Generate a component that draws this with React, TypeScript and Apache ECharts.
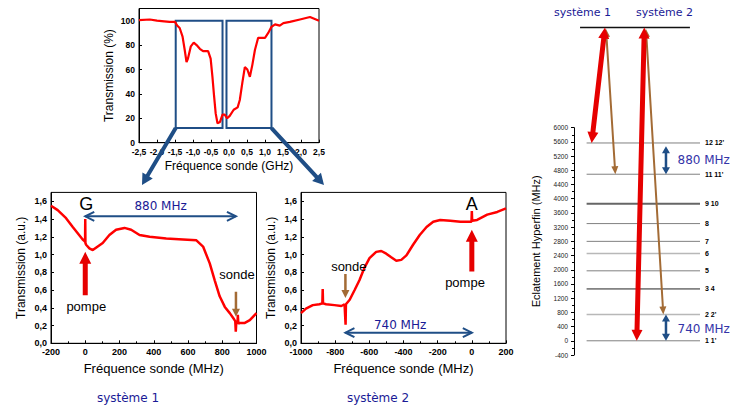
import React, { useEffect, useRef } from "react";
import * as echarts from "echarts";

// ---- Top survey spectrum: probe frequency (GHz) vs transmission (%)
const surveyFreq = [-2.5, -2.2, -2.0, -1.8, -1.65, -1.5, -1.44, -1.37, -1.29, -1.23, -1.18, -1.14, -1.06, -0.98, -0.9, -0.81, -0.72, -0.58, -0.51, -0.46, -0.42, -0.37, -0.32, -0.25, -0.18, -0.12, -0.05, 0.02, 0.13, 0.24, 0.3, 0.37, 0.44, 0.51, 0.58, 0.65, 0.72, 0.81, 0.9, 1.0, 1.09, 1.18, 1.28, 1.41, 1.51, 1.69, 1.97, 2.25, 2.5];
const surveyTrans = [100.5, 101, 100, 99.5, 99, 99, 96, 94, 87, 76, 66, 69, 79, 82, 80, 77, 75, 75, 69, 54, 40, 24, 16, 17, 23, 23, 20, 22, 27, 29, 35, 49, 62, 60, 54, 64, 76, 86, 86, 86, 90, 95, 97, 96, 98, 99, 101, 103, 100];

// ---- Système 1: probe frequency (MHz) vs transmission (a.u.)
const sys1Freq = [-200, -161, -112, -73, -44, -15, -3, -1, 0, 1, 5, 24, 44, 73, 102, 141, 180, 229, 268, 317, 376, 473, 571, 649, 688, 727, 756, 785, 815, 844, 869, 876, 879, 882, 889, 891, 894, 902, 932, 961, 1000];
const sys1Trans = [1.55, 1.5, 1.41, 1.31, 1.24, 1.17, 1.15, 1.14, 1.4, 1.13, 1.11, 1.07, 1.05, 1.09, 1.13, 1.22, 1.28, 1.3, 1.28, 1.22, 1.2, 1.18, 1.17, 1.16, 1.09, 0.9, 0.71, 0.53, 0.41, 0.34, 0.27, 0.25, 0.13, 0.24, 0.22, 0.32, 0.22, 0.23, 0.23, 0.26, 0.34];

// ---- Système 2
const sys2Freq = [-1000, -971, -931, -892, -875, -873, -871, -853, -804, -764, -745, -741, -739, -737, -715, -686, -658, -629, -599, -560, -530, -501, -472, -442, -413, -383, -344, -305, -265, -226, -185, -126, -67, -8, -2, 0, 2, 31, 90, 149, 200];
const sys2Trans = [0.34, 0.39, 0.43, 0.44, 0.45, 0.61, 0.45, 0.44, 0.43, 0.42, 0.44, 0.44, 0.21, 0.44, 0.49, 0.6, 0.71, 0.85, 0.96, 1.03, 1.04, 1.01, 0.97, 0.93, 0.94, 0.99, 1.11, 1.22, 1.31, 1.37, 1.39, 1.38, 1.37, 1.37, 1.37, 1.49, 1.38, 1.39, 1.45, 1.48, 1.52];

// ---- Hyperfine levels (MHz)
const levelNames = ["1 1'", "2 2'", "3 4", "5", "6", "7", "8", "9 10", "11 11'", "12 12'"];
const levelValues = [0, 740, 1460, 1970, 2460, 2800, 3300, 3860, 4690, 5570];
const excitedLevel = 8820;
const split1 = 880; // système 1 pump-probe separation
const split2 = 740; // système 2

const SANS = '"Liberation Sans", Arial, sans-serif';
const VERD = '"DejaVu Sans", Verdana, sans-serif';
const CURVE = "#ff0000";
const PUMP = "#e60000";
const BROWN = "#a36b35";
const NAVY = "#1f4e86";
const TXTBLUE = "#1a1a96";
const LVLBLUE = "#3434a8";

const levelStyle: Record<string, { color: string; width: number }> = {
  "9 10": { color: "#666666", width: 2 },
  "3 4": { color: "#222222", width: 1 },
  "6": { color: "#b8b8b8", width: 1.5 },
  "2 2'": { color: "#b8b8b8", width: 1.5 },
};

const zip = (a: number[], b: number[]) => a.map((v, i) => [v, b[i]]);
const comma = (d: number) => (v: number) => v.toFixed(d).replace(".", ",");
const plain = (v: number) => String(Math.round(v));

function arrow(p1: number[], p2: number[], shaft: number, headW: number, headL: number, both: boolean, color: string, z = 20) {
  const dx = p2[0] - p1[0], dy = p2[1] - p1[1];
  const L = Math.hypot(dx, dy);
  const ux = dx / L, uy = dy / L, nx = -uy, ny = ux;
  const s = shaft / 2, h = headW / 2;
  const pt = (b: number[], a: number, sd: number) => [b[0] + ux * a + nx * sd, b[1] + uy * a + ny * sd];
  const pts: number[][] = [];
  if (both) { pts.push([p1[0], p1[1]], pt(p1, headL, h), pt(p1, headL, s)); } else { pts.push(pt(p1, 0, s)); }
  pts.push(pt(p2, -headL, s), pt(p2, -headL, h), [p2[0], p2[1]], pt(p2, -headL, -h), pt(p2, -headL, -s));
  if (both) { pts.push(pt(p1, headL, -s), pt(p1, headL, -h)); } else { pts.push(pt(p1, 0, -s)); }
  return { type: "polygon", z, shape: { points: pts }, style: { fill: color } };
}

function chevronArrow(p1: number[], p2: number[], headW: number, headL: number, color: string, width: number) {
  const dx = p2[0] - p1[0], dy = p2[1] - p1[1];
  const L = Math.hypot(dx, dy);
  const ux = dx / L, uy = dy / L, nx = -uy, ny = ux;
  const pt = (b: number[], a: number, sd: number) => [b[0] + ux * a + nx * sd, b[1] + uy * a + ny * sd];
  const st = { stroke: color, lineWidth: width, fill: "none" };
  return [
    { type: "line", z: 20, shape: { x1: p1[0], y1: p1[1], x2: p2[0], y2: p2[1] }, style: st },
    { type: "polyline", z: 20, shape: { points: [pt(p1, headL, headW / 2), p1, pt(p1, headL, -headW / 2)] }, style: st },
    { type: "polyline", z: 20, shape: { points: [pt(p2, -headL, headW / 2), p2, pt(p2, -headL, -headW / 2)] }, style: st },
  ];
}

function txt(x: number, y: number, text: string, size: number, color: string, family = SANS, weight = "normal", align = "center") {
  return {
    type: "text", z: 30, x, y,
    style: { text, fontSize: size, fontFamily: family, fontWeight: weight, fill: color, align, textAlign: align, verticalAlign: "middle", textVerticalAlign: "middle" },
  };
}

const frameAxis = (extra: any) => ({
  type: "value",
  axisLine: { show: true, onZero: false, lineStyle: { color: "#000", width: 1 } },
  axisTick: { show: true, inside: true, length: 3, lineStyle: { color: "#000" } },
  minorTick: { show: true, splitNumber: 2, length: 2, lineStyle: { color: "#000" } },
  splitLine: { show: false },
  nameLocation: "middle",
  nameTextStyle: { color: "#000", fontFamily: SANS, fontSize: 12 },
  ...extra,
});
const tickLbl = (extra: any) => ({ fontSize: 9, fontWeight: "bold", color: "#000", fontFamily: SANS, margin: 4, ...extra });

export default function App() {
  const ref = useRef<HTMLDivElement>(null);
  useEffect(() => {
    if (!ref.current) return;
    const chart = echarts.init(ref.current, null, { renderer: "svg" });
    const gridBase = { show: true, borderColor: "#000", borderWidth: 1, backgroundColor: "transparent", outerBoundsMode: "none", containLabel: false };
    const option: any = {
      animation: false,
      textStyle: { fontFamily: SANS },
      grid: [
        { ...gridBase, left: 139, top: 8.5, width: 180, height: 134.2 },
        { ...gridBase, left: 51, top: 192.4, width: 205.5, height: 150.9 },
        { ...gridBase, left: 301, top: 192.4, width: 205, height: 150.9 },
        { left: 574, top: 127.7, width: 126, height: 227.3, show: false, outerBoundsMode: "none", containLabel: false },
      ],
      xAxis: [
        frameAxis({ gridIndex: 0, min: -2.5, max: 2.5, interval: 0.5, minorTick: { show: false },
          axisLabel: tickLbl({ fontSize: 8.5, margin: 5, formatter: comma(1) }),
          name: "Fréquence sonde (GHz)", nameGap: 17, nameTextStyle: { color: "#000", fontFamily: SANS, fontSize: 12 } }),
        frameAxis({ gridIndex: 1, min: -200, max: 1000, interval: 200, axisLabel: tickLbl({ formatter: plain }),
          name: "Fréquence sonde (MHz)", nameGap: 19, nameTextStyle: { color: "#000", fontFamily: SANS, fontSize: 13 } }),
        frameAxis({ gridIndex: 2, min: -1000, max: 200, interval: 200, axisLabel: tickLbl({ formatter: plain }),
          name: "Fréquence sonde (MHz)", nameGap: 19, nameTextStyle: { color: "#000", fontFamily: SANS, fontSize: 13 } }),
        { type: "value", gridIndex: 3, min: 0, max: 1, show: false },
      ],
      yAxis: [
        frameAxis({ gridIndex: 0, min: 0, max: 110, interval: 20, minorTick: { show: false },
          axisLabel: tickLbl({ fontSize: 8.5, showMaxLabel: false, formatter: plain }),
          name: "Transmission (%)", nameGap: 24 }),
        frameAxis({ gridIndex: 1, min: 0, max: 1.7, interval: 0.2, minorTick: { show: false },
          axisLabel: tickLbl({ showMaxLabel: false, formatter: comma(1) }),
          name: "Transmission (a.u.)", nameGap: 24 }),
        frameAxis({ gridIndex: 2, min: 0, max: 1.7, interval: 0.2, minorTick: { show: false },
          axisLabel: tickLbl({ showMaxLabel: false, formatter: comma(1) }),
          name: "Transmission (a.u.)", nameGap: 24 }),
        {
          type: "value", gridIndex: 3, min: -400, max: 6000, interval: 400,
          axisLine: { show: true, onZero: false, lineStyle: { color: "#000", width: 1 } },
          axisTick: { show: true, inside: false, length: 3, lineStyle: { color: "#000" } },
          minorTick: { show: true, splitNumber: 2, length: 2, lineStyle: { color: "#000" } },
          splitLine: { show: false },
          axisLabel: { fontSize: 6.5, color: "#222", fontFamily: SANS, margin: 6, formatter: plain },
          name: "Eclatement Hyperfin (MHz)", nameLocation: "middle", nameGap: 33,
          nameTextStyle: { color: "#000", fontFamily: SANS, fontSize: 11 },
        },
      ],
      series: [
        {
          type: "line", xAxisIndex: 0, yAxisIndex: 0, data: zip(surveyFreq, surveyTrans), symbol: "none",
          lineStyle: { color: CURVE, width: 2.2 }, silent: true,
          markArea: {
            silent: true,
            itemStyle: { color: "transparent", borderColor: NAVY, borderWidth: 2 },
            data: [
              [{ coord: [-1.48, 12] }, { coord: [-0.18, 100] }],
              [{ coord: [-0.07, 12] }, { coord: [1.18, 100] }],
            ],
          },
        },
        { type: "line", xAxisIndex: 1, yAxisIndex: 1, data: zip(sys1Freq, sys1Trans), symbol: "none", lineStyle: { color: CURVE, width: 2.5 }, silent: true },
        { type: "line", xAxisIndex: 2, yAxisIndex: 2, data: zip(sys2Freq, sys2Trans), symbol: "none", lineStyle: { color: CURVE, width: 2.5 }, silent: true },
        ...levelNames.map((n, i) => ({
          type: "line", xAxisIndex: 3, yAxisIndex: 3, symbol: "none", silent: true,
          data: [[0.1, levelValues[i]], [1, levelValues[i]]],
          lineStyle: levelStyle[n] ? { color: levelStyle[n].color, width: levelStyle[n].width } : { color: "#808080", width: 1 },
          endLabel: { show: true, formatter: n, fontSize: 7, fontWeight: "bold", color: "#000", fontFamily: SANS, distance: 5 },
        })),
        {
          type: "line", xAxisIndex: 3, yAxisIndex: 3, symbol: "none", silent: true, clip: false,
          data: [[0.048, excitedLevel], [0.92, excitedLevel]], lineStyle: { color: "#111", width: 1.5 },
        },
      ],
    };
    chart.setOption(option);

    const px = (g: number, x: number, y: number) => chart.convertToPixel({ gridIndex: g } as any, [x, y]) as number[];
    const lv = (name: string) => levelValues[levelNames.indexOf(name)];
    const g: any[] = [];

    // Top chart zoom arrows
    g.push(arrow(px(0, -1.48, 12), [142, 185], 4, 12, 11, false, NAVY));
    g.push(arrow(px(0, 1.18, 12), [324, 185], 4, 12, 11, false, NAVY));

    // Système 1 annotations
    g.push(txt(px(1, 0, 1.58)[0] + 1, px(1, 0, 1.58)[1] + 1, "G", 18, "#000"));
    g.push(...chevronArrow(px(1, 0, 1.43), px(1, split1, 1.43), 9, 9, NAVY, 2));
    g.push(txt(px(1, 440, 1.55)[0], px(1, 440, 1.55)[1], "880 MHz", 12, TXTBLUE, VERD));
    g.push(arrow(px(1, 0, 0.54), px(1, 0, 1.03), 5, 12, 12, false, PUMP));
    g.push(txt(px(1, 0, 0.42)[0] + 1, px(1, 0, 0.42)[1], "pompe", 13, "#000"));
    g.push(arrow(px(1, split1, 0.58), px(1, split1, 0.3), 2.5, 8, 8, false, BROWN));
    g.push(txt(px(1, split1, 0.78)[0] + 1, px(1, split1, 0.78)[1], "sonde", 13, "#000"));

    // Système 2 annotations
    g.push(txt(px(2, 0, 1.58)[0], px(2, 0, 1.58)[1] + 1, "A", 18, "#000"));
    g.push(...chevronArrow(px(2, -split2, 0.12), px(2, 0, 0.12), 9, 9, NAVY, 2));
    g.push(txt(px(2, -420, 0.21)[0], px(2, -420, 0.21)[1], "740 MHz", 12, TXTBLUE, VERD));
    g.push(arrow(px(2, 0, 0.81), px(2, 0, 1.28), 5, 12, 12, false, PUMP));
    g.push(txt(px(2, -40, 0.69)[0], px(2, -40, 0.69)[1], "pompe", 13, "#000"));
    g.push(arrow(px(2, -split2, 0.78), px(2, -split2, 0.51), 2.5, 8, 8, false, BROWN));
    g.push(txt(px(2, -720, 0.87)[0], px(2, -720, 0.87)[1], "sonde", 13, "#000"));

    // Level diagram arrows
    g.push(arrow(px(3, 0.254, excitedLevel - 40), px(3, 0.328, lv("11 11'")), 2, 7, 8, true, BROWN));
    g.push(arrow(px(3, 0.571, excitedLevel - 40), px(3, 0.709, lv("2 2'")), 2, 7, 8, true, BROWN));
    g.push(arrow(px(3, 0.246, excitedLevel), px(3, 0.14, lv("12 12'")), 5, 11, 11, true, PUMP));
    g.push(arrow(px(3, 0.558, excitedLevel), px(3, 0.498, lv("1 1'")), 5, 11, 11, true, PUMP));
    g.push(arrow(px(3, 0.73, lv("12 12'") - 90), px(3, 0.73, lv("11 11'")), 2.5, 8, 7, true, NAVY));
    g.push(arrow(px(3, 0.73, split2), px(3, 0.73, 0), 2.5, 8, 7, true, NAVY));
    g.push(txt(677.5, 159.5, "880 MHz", 12, LVLBLUE, VERD, "normal", "left"));
    g.push(txt(677.5, 328.5, "740 MHz", 12, LVLBLUE, VERD, "normal", "left"));

    // System labels
    g.push(txt(582.5, 12.5, "système 1", 11, TXTBLUE, VERD));
    g.push(txt(664.5, 12.5, "système 2", 11, TXTBLUE, VERD));
    g.push(txt(128, 397.5, "système 1", 12, TXTBLUE, VERD));
    g.push(txt(378, 398, "système 2", 12, TXTBLUE, VERD));

    chart.setOption({ graphic: { elements: g } });
    return () => chart.dispose();
  }, []);
  return <div ref={ref} style={{ position: "absolute", left: 0, top: 0, width: 731, height: 410, background: "#fff" }} />;
}
